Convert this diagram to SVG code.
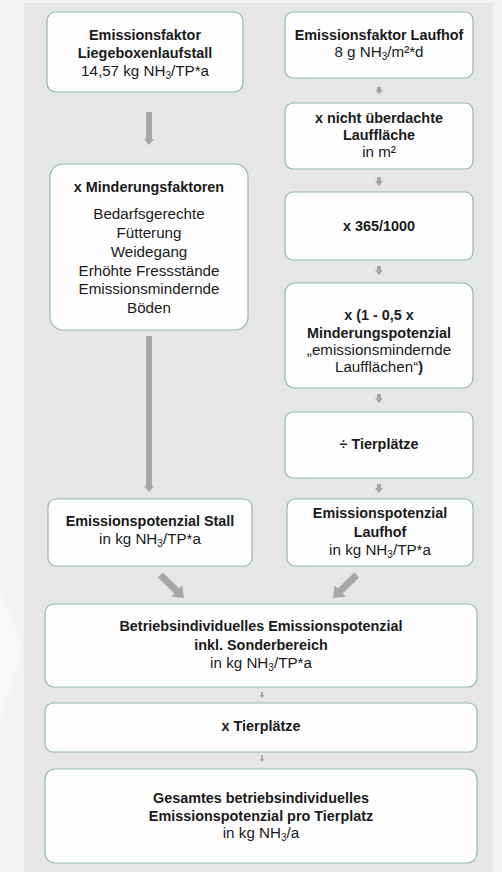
<svg xmlns="http://www.w3.org/2000/svg" width="502" height="872" viewBox="0 0 502 872">
<style>
.box{fill:#fefefe;stroke:#93b9a2;stroke-width:1.2}
text{font-family:"Liberation Sans",Arial,sans-serif;font-size:15.2px;fill:#1a1a1a;text-anchor:middle}
.b{font-weight:bold;font-size:14.4px}
.arr{fill:#a6a6a6}
.sub{font-size:10px}
</style>
<rect x="0" y="0" width="502" height="872" fill="#f2f2f2"/>
<polygon points="0,590 24,648 0,720" fill="#f7f7f7"/>
<rect x="24" y="3" width="469" height="869" fill="#e6e6e6"/>

<g id="connectors">
<polygon class="arr" points="146,112 152,112 152,139 154,139 149,145 144,139 146,139"/>
<polygon class="arr" points="146,336 152,336 152,486 154,486 149,492 144,486 146,486"/>
<polygon class="arr" points="377,87 381,87 381,90 383,90 379,94 375,90 377,90"/>
<polygon class="arr" points="377,177 381,177 381,181 383,181 379,186 375,181 377,181"/>
<polygon class="arr" points="377,266 381,266 381,270 383,270 379,275 375,270 377,270"/>
<polygon class="arr" points="377,394 381,394 381,398 383,398 379,403 375,398 377,398"/>
<polygon class="arr" points="377,484 381,484 381,488 383,488 379,493 375,488 377,488"/>
<polygon class="arr" points="-33,-3.5 -10,-3.5 -10,-8 0,0 -10,8 -10,3.5 -33,3.5" transform="translate(184,598) rotate(44)"/>
<polygon class="arr" points="-33,-3.5 -10,-3.5 -10,-8 0,0 -10,8 -10,3.5 -33,3.5" transform="translate(333,598) rotate(136)"/>
<polygon class="arr" points="261,692 263,692 263,695 264.5,695 262,698 259.5,695 261,695"/>
<polygon class="arr" points="261,755 263,755 263,759 264.5,759 262,762 259.5,759 261,759"/>
</g>

<g id="n-ef-liegebox">
<rect class="box" x="47" y="12" width="196" height="80" rx="9"/>
<text x="145" y="40" class="b">Emissionsfaktor</text>
<text x="145" y="58" class="b">Liegeboxenlaufstall</text>
<text x="145" y="76">14,57 kg NH<tspan class="sub" dy="3">3</tspan><tspan dy="-3">/TP*a</tspan></text>
</g>

<g id="n-ef-laufhof">
<rect class="box" x="285" y="12" width="188" height="66" rx="8"/>
<text x="379" y="40" class="b">Emissionsfaktor Laufhof</text>
<text x="379" y="57">8 g NH<tspan class="sub" dy="3">3</tspan><tspan dy="-3">/m²*d</tspan></text>
</g>

<g id="n-flaeche">
<rect class="box" x="285" y="103" width="188" height="66" rx="8"/>
<text x="379" y="123" class="b">x nicht überdachte</text>
<text x="379" y="140" class="b">Lauffläche</text>
<text x="379" y="157">in m²</text>
</g>

<g id="n-minderung">
<rect class="box" x="50" y="164" width="198" height="166" rx="13"/>
<text x="149" y="192" class="b">x Minderungsfaktoren</text>
<text x="149" y="219">Bedarfsgerechte</text>
<text x="149" y="238">Fütterung</text>
<text x="149" y="257">Weidegang</text>
<text x="149" y="276">Erhöhte Fressstände</text>
<text x="149" y="294">Emissionsmindernde</text>
<text x="149" y="313">Böden</text>
</g>

<g id="n-365">
<rect class="box" x="285" y="192" width="188" height="68" rx="8"/>
<text x="379" y="231" class="b">x 365/1000</text>
</g>

<g id="n-minderungspotenzial">
<rect class="box" x="285" y="283" width="188" height="105" rx="10"/>
<text x="379" y="320" class="b">x (1 - 0,5 x</text>
<text x="379" y="338" class="b">Minderungspotenzial</text>
<text x="379" y="355">„emissionsmindernde</text>
<text x="379" y="372">Laufflächen“<tspan class="b" font-size="15.2px">)</tspan></text>
</g>

<g id="n-tierplaetze-div">
<rect class="box" x="285" y="412" width="188" height="66" rx="8"/>
<text x="379" y="449" class="b">÷ Tierplätze</text>
</g>

<g id="n-ep-stall">
<rect class="box" x="48" y="499" width="204" height="67" rx="8"/>
<text x="150" y="526" class="b">Emissionspotenzial Stall</text>
<text x="150" y="544">in kg NH<tspan class="sub" dy="3">3</tspan><tspan dy="-3">/TP*a</tspan></text>
</g>

<g id="n-ep-laufhof">
<rect class="box" x="287" y="499" width="186" height="67" rx="8"/>
<text x="380" y="518" class="b">Emissionspotenzial</text>
<text x="380" y="537" class="b">Laufhof</text>
<text x="380" y="555">in kg NH<tspan class="sub" dy="3">3</tspan><tspan dy="-3">/TP*a</tspan></text>
</g>

<g id="n-betrieb">
<rect class="box" x="45" y="604" width="432" height="83" rx="9"/>
<text x="261" y="631" class="b">Betriebsindividuelles Emissionspotenzial</text>
<text x="261" y="650" class="b">inkl. Sonderbereich</text>
<text x="261" y="668">in kg NH<tspan class="sub" dy="3">3</tspan><tspan dy="-3">/TP*a</tspan></text>
</g>

<g id="n-tierplaetze-mul">
<rect class="box" x="45" y="703" width="432" height="49" rx="8"/>
<text x="261" y="731" class="b">x Tierplätze</text>
</g>

<g id="n-gesamt">
<rect class="box" x="45" y="769" width="432" height="94" rx="10"/>
<text x="261" y="803" class="b">Gesamtes betriebsindividuelles</text>
<text x="261" y="821" class="b">Emissionspotenzial pro Tierplatz</text>
<text x="261" y="838">in kg NH<tspan class="sub" dy="3">3</tspan><tspan dy="-3">/a</tspan></text>
</g>
</svg>
